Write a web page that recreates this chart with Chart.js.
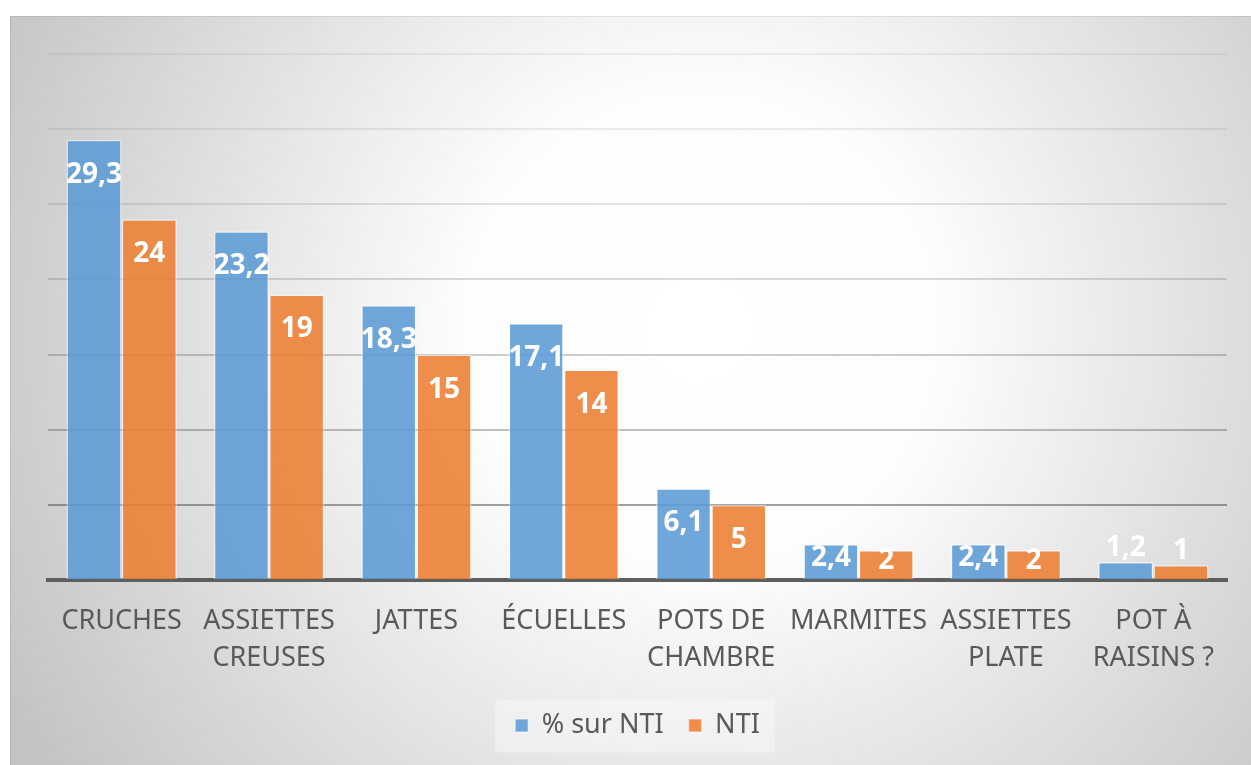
<!DOCTYPE html>
<html>
<head>
<meta charset="utf-8">
<script src="https://cdn.jsdelivr.net/npm/chart.js@4.4.0/dist/chart.umd.min.js"></script>
<style>
  html, body { margin: 0; padding: 0; background: #fff; }
  #wrap { width: 1251px; height: 765px; position: relative; }
</style>
</head>
<body>
<div id="wrap"><canvas id="myChart"></canvas></div>
<script>
var categories = ['CRUCHES', ['ASSIETTES', 'CREUSES'], 'JATTES', 'ÉCUELLES', ['POTS DE', 'CHAMBRE'], 'MARMITES', ['ASSIETTES', 'PLATE'], ['POT À', 'RAISINS ?']];
var pctSurNTI = [29.3, 23.2, 18.3, 17.1, 6.1, 2.4, 2.4, 1.2];
var nti = [24, 19, 15, 14, 5, 2, 2, 1];
var seriesNames = ['% sur NTI', 'NTI'];

var textColor = '#595959';

// grey radial backdrop like the office theme
var backdrop = {
    id: 'backdrop',
    beforeDraw: function (chart) {
        var ctx = chart.ctx;
        ctx.save();
        ctx.fillStyle = '#ffffff';
        ctx.fillRect(0, 0, chart.width, chart.height);
        var g = ctx.createRadialGradient(700, 330, 0, 700, 330, 780);
        g.addColorStop(0, '#ffffff');
        g.addColorStop(0.3, '#fdfdfd');
        g.addColorStop(1, '#c4c4c4');
        ctx.fillStyle = g;
        ctx.fillRect(10, 16, chart.width - 10, chart.height - 16);
        ctx.strokeStyle = 'rgba(0,0,0,0.08)';
        ctx.lineWidth = 1;
        ctx.beginPath();
        ctx.moveTo(10, 16.5); ctx.lineTo(chart.width, 16.5);
        ctx.moveTo(10.5, 16); ctx.lineTo(10.5, chart.height);
        ctx.stroke();

        // pale box behind the legend
        var boxes = chart.legend && chart.legend.legendHitBoxes;
        if (boxes && boxes.length) {
            var last = boxes[boxes.length - 1];
            var l = boxes[0].left - 20, r = last.left + last.width + 15;
            var cy = boxes[0].top + boxes[0].height / 2;
            ctx.fillStyle = 'rgba(255,255,255,0.35)';
            ctx.fillRect(l, cy - 26, r - l, 53);
        }
        ctx.restore();
    }
};

// white value labels, inside end like Excel
var valueLabels = {
    id: 'valueLabels',
    afterDatasetsDraw: function (chart) {
        var ctx = chart.ctx;
        ctx.save();
        ctx.font = 'bold 28px "Noto Sans"';
        ctx.fillStyle = '#ffffff';
        ctx.textAlign = 'center';
        ctx.textBaseline = 'middle';
        chart.data.datasets.forEach(function (ds, i) {
            var meta = chart.getDatasetMeta(i);
            meta.data.forEach(function (bar, j) {
                var h = bar.base - bar.y;
                var y;
                if (h >= 60) y = bar.y + 35;
                else if (h >= 25) y = bar.y + h / 2 - 3;
                else y = bar.y - 14;
                ctx.fillText(String(ds.data[j]).replace('.', ','), bar.x, y);
            });
        });
        ctx.restore();
    }
};

var gridAlpha = {5: 0.5, 10: 0.34, 15: 0.27, 20: 0.2, 25: 0.14, 30: 0.1, 35: 0.07};

var myChart = new Chart(document.getElementById('myChart').getContext('2d'), {
    type: 'bar',
    data: {
        labels: categories,
        datasets: [{
            label: seriesNames[0],
            data: pctSurNTI,
            backgroundColor: 'rgba(91,155,213,0.88)',
            borderColor: 'rgba(255,255,255,0.45)',
            borderWidth: 1.5
        }, {
            label: seriesNames[1],
            data: nti,
            backgroundColor: 'rgba(237,125,49,0.88)',
            borderColor: 'rgba(255,255,255,0.45)',
            borderWidth: 1.5
        }]
    },
    options: {
        responsive: true,
        maintainAspectRatio: false,
        animation: false,
        layout: {
            padding: {left: 48, right: 24, top: 54, bottom: 16}
        },
        datasets: {
            bar: {
                categoryPercentage: 0.75,
                barPercentage: 1
            }
        },
        scales: {
            x: {
                grid: {display: false, drawTicks: false},
                border: {display: true, color: '#5f5f5f', width: 4},
                ticks: {
                    color: textColor,
                    font: {family: 'Noto Sans', size: 27, lineHeight: 1.37},
                    padding: 23,
                    maxRotation: 0,
                    autoSkip: false
                },
                afterFit: function (scale) {
                    scale.height = 107;
                }
            },
            y: {
                min: 0,
                max: 35,
                ticks: {display: false, stepSize: 5},
                border: {display: false},
                grid: {
                    drawTicks: false,
                    lineWidth: 2,
                    color: function (c) {
                        var a = gridAlpha[c.tick.value] || 0;
                        return 'rgba(70,70,70,' + a + ')';
                    }
                }
            }
        },
        plugins: {
            legend: {
                position: 'bottom',
                labels: {
                    color: textColor,
                    font: {family: 'Noto Sans', size: 27},
                    boxWidth: 13,
                    boxHeight: 13,
                    padding: 25
                }
            },
            tooltip: {enabled: false}
        }
    },
    plugins: [backdrop, valueLabels]
});
</script>
</body>
</html>
